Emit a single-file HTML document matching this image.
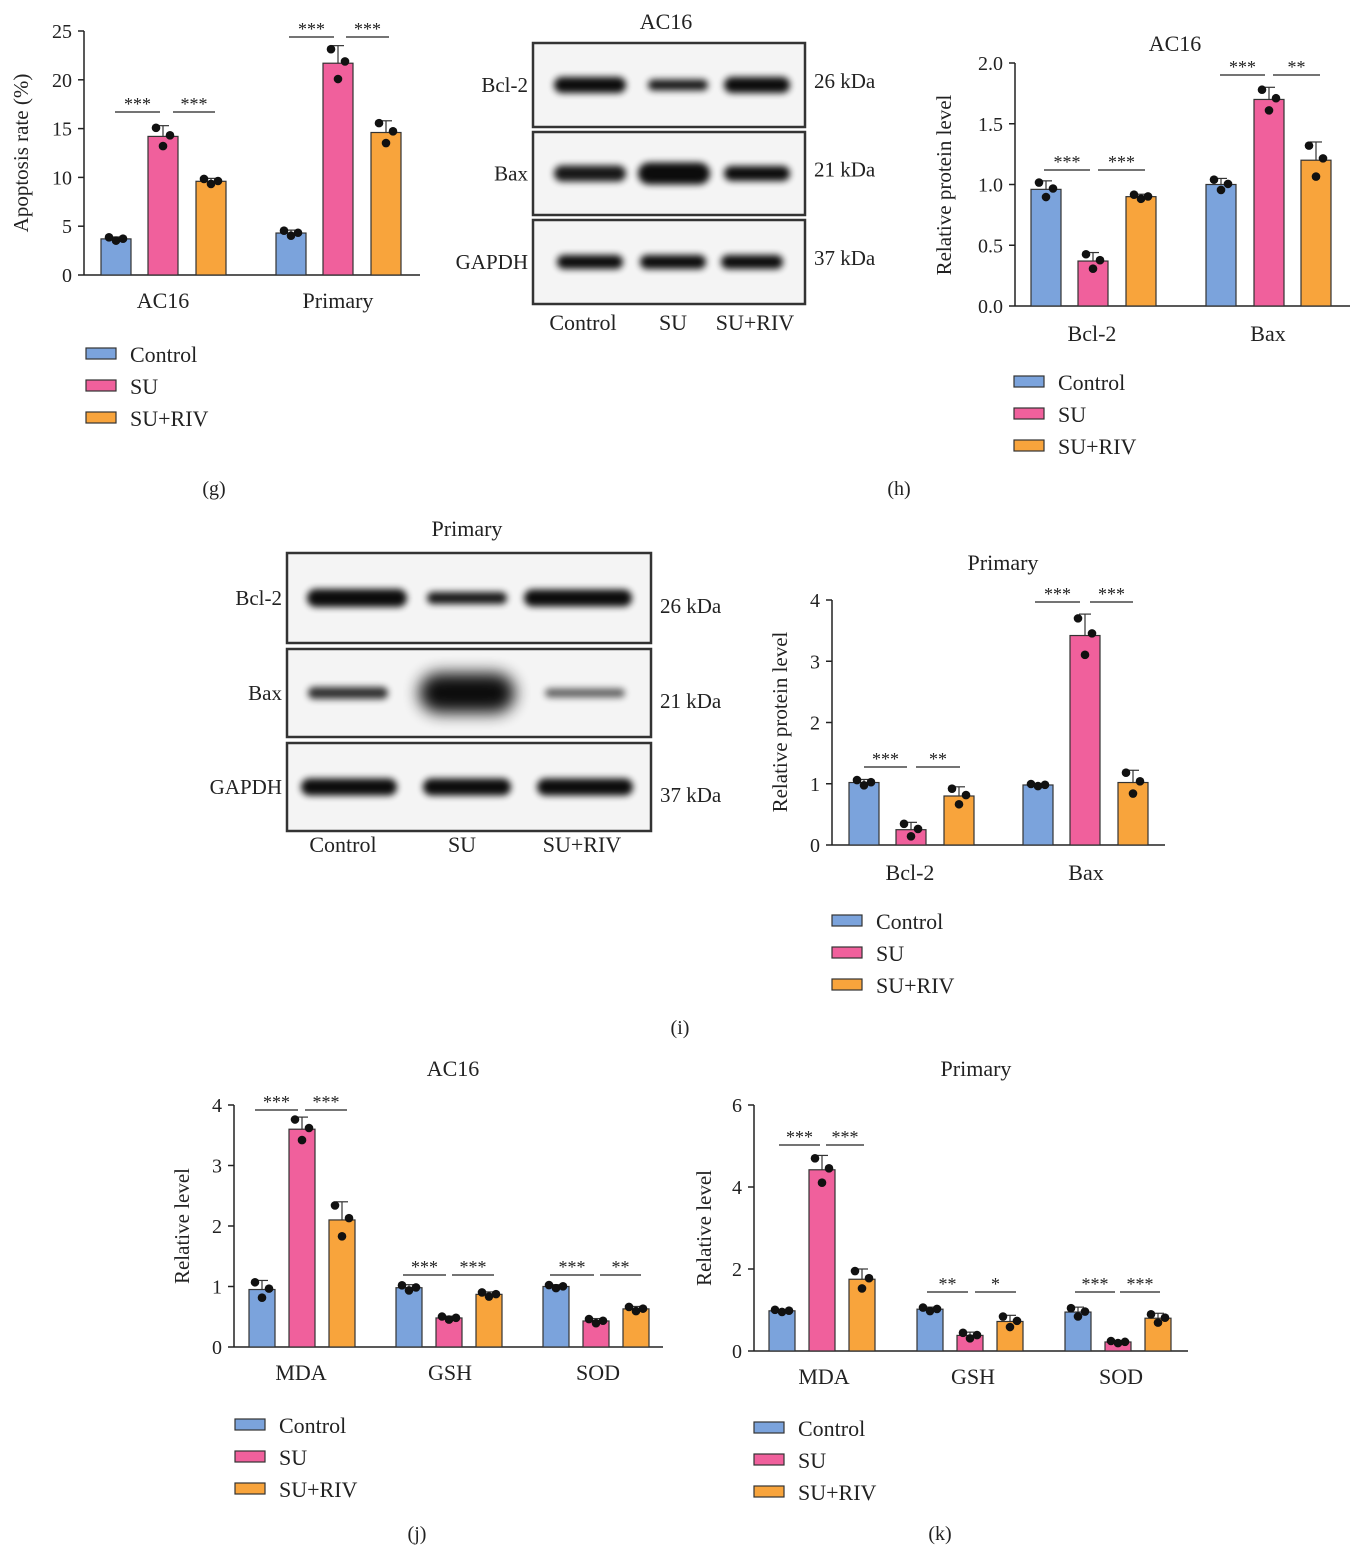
<!DOCTYPE html>
<html><head><meta charset="utf-8"><style>
html,body{margin:0;padding:0;background:#fff}
svg{display:block}
text{font-family:"Liberation Serif",serif;fill:#222}
</style></head><body>
<svg id="s" width="1366" height="1557" viewBox="0 0 1366 1557" xmlns="http://www.w3.org/2000/svg">
<defs><filter id="bl" x="-20%" y="-100%" width="140%" height="300%"><feGaussianBlur stdDeviation="3.5"/></filter>
<filter id="bl2" x="-20%" y="-100%" width="140%" height="300%"><feGaussianBlur stdDeviation="8"/></filter></defs>
</svg>
<script>
const S=document.getElementById('s');let h='';
const C=['#7ba3dc','#f0609c','#f8a43c'];
function t(x,y,s,sz,a,extra){h+=`<text x="${x}" y="${y}" font-size="${sz||20}" text-anchor="${a||'middle'}" ${extra||''}>${s}</text>`;}
function chart(o){
 const ax=o.ax,y0=o.y0,y1=o.y1,max=o.max;const sc=(y0-y1)/max;
 const Y=v=>y0-v*sc;
 h+=`<line x1="${ax}" y1="${y1}" x2="${ax}" y2="${y0}" stroke="#222" stroke-width="1.5"/>`;
 h+=`<line x1="${ax}" y1="${y0}" x2="${o.xe}" y2="${y0}" stroke="#222" stroke-width="1.5"/>`;
 o.ticks.forEach(v=>{const yy=Y(v);h+=`<line x1="${ax-6}" y1="${yy}" x2="${ax}" y2="${yy}" stroke="#222" stroke-width="1.5"/>`;t(ax-12,yy+7,o.fmt?v.toFixed(1):v,20,'end');});
 o.bars.forEach((g,gi)=>{g.forEach((b,bi)=>{const [x,w,v,e]=b;const yy=Y(v);
  h+=`<rect x="${x}" y="${yy}" width="${w}" height="${y0-yy}" fill="${C[bi]}" stroke="#333" stroke-width="1.2"/>`;
  const cx=x+w/2,et=Y(v+e);
  h+=`<line x1="${cx}" y1="${yy}" x2="${cx}" y2="${et}" stroke="#333" stroke-width="1.2"/><line x1="${cx-6}" y1="${et}" x2="${cx+6}" y2="${et}" stroke="#333" stroke-width="1.2"/>`;
  [[-7,v+e*0.8],[0,v-e*0.9],[7,v+e*0.1]].forEach(d=>{h+=`<circle cx="${cx+d[0]}" cy="${Y(d[1])}" r="4.3" fill="#111"/>`;});
 });});
 o.labels.forEach(l=>t(l[0],o.ly,l[1],22));
 (o.sig||[]).forEach(s=>{h+=`<line x1="${s[0]}" y1="${s[2]}" x2="${s[1]}" y2="${s[2]}" stroke="#222" stroke-width="1.2"/>`;t((s[0]+s[1])/2,s[2]-2,s[3],18);});
 if(o.title)t(o.title[0],o.title[1],o.title[2],22);
 if(o.yl)t(0,0,o.yl[2],21,'middle',`transform="translate(${o.yl[0]},${o.yl[1]}) rotate(-90)"`);
 const lg=o.leg;['Control','SU','SU+RIV'].forEach((n,i)=>{const yy=lg[1]+i*32;h+=`<rect x="${lg[0]}" y="${yy-6}" width="30" height="11" fill="${C[i]}" stroke="#333" stroke-width="1.2"/>`;t(lg[0]+44,yy+8,n,22,'start');});
}
function blot(o){
 o.rows.forEach((r,ri)=>{h+=`<rect x="${o.x}" y="${r[0]}" width="${o.w}" height="${r[1]-r[0]}" fill="#f4f4f4" stroke="#333" stroke-width="2.5"/>`;
  const cy=(r[0]+r[1])/2;
  o.bands[ri].forEach(b=>{const [cx,w,hh,op,big]=b;h+=`<rect x="${cx-w/2}" y="${cy-hh/2}" width="${w}" height="${hh}" rx="${hh/2}" fill="#000" opacity="${op}" filter="url(#${big?'bl2':'bl'})"/>`;});
  t(o.x-5,cy+7,o.ln[ri],21,'end');t(o.x+o.w+9,cy+o.ko+7,o.kd[ri],21,'start');
 });
 o.bl.forEach(l=>t(l[0],o.bly,l[1],22));t(o.tt[0],o.tt[1],o.tt[2],22);
}
// g
chart({ax:84,y0:275,y1:31,max:25,xe:420,ticks:[0,5,10,15,20,25],
 bars:[[[101,30,3.7,0.2],[148,30,14.2,1.1],[196,30,9.6,0.3]],[[276,30,4.3,0.3],[323,30,21.7,1.8],[371,30,14.6,1.2]]],
 labels:[[163,'AC16'],[338,'Primary']],ly:308,
 sig:[[115,160,112,'***'],[173,215,112,'***'],[289,334,37,'***'],[346,389,37,'***']],
 yl:[28,153,'Apoptosis rate (%)'],leg:[86,354]});
t(214,495,'(g)',20);
// h blot
blot({x:533,w:272,rows:[[43,127],[132,215],[220,304]],ln:['Bcl-2','Bax','GAPDH'],kd:['26 kDa','21 kDa','37 kDa'],ko:-4,
 bands:[[[590,72,16,.95],[678,60,11,.9],[757,66,16,.95]],[[590,72,16,.9],[674,72,22,.95],[757,66,15,.95]],[[590,66,14,.95],[673,66,14,.95],[752,62,14,.95]]],
 bl:[[583,'Control'],[673,'SU'],[755,'SU+RIV']],bly:330,tt:[666,29,'AC16']});
chart({ax:1015,y0:306,y1:63,max:2,xe:1350,ticks:[0,0.5,1,1.5,2],fmt:1,
 bars:[[[1031,30,0.96,0.07],[1078,30,0.37,0.07],[1126,30,0.9,0.02]],[[1206,30,1.0,0.05],[1254,30,1.7,0.1],[1301,30,1.2,0.15]]],
 labels:[[1092,'Bcl-2'],[1268,'Bax']],ly:341,
 sig:[[1044,1090,170,'***'],[1098,1145,170,'***'],[1220,1265,75,'***'],[1273,1320,75,'**']],
 title:[1175,51,'AC16'],yl:[951,185,'Relative protein level'],leg:[1014,382]});
t(899,495,'(h)',20);
// i blot
blot({x:287,w:364,rows:[[553,643],[649,737],[743,831]],ln:['Bcl-2','Bax','GAPDH'],kd:['26 kDa','21 kDa','37 kDa'],ko:8,
 bands:[[[357,100,18,.95],[467,80,12,.9],[578,108,17,.95]],[[348,80,12,.8],[467,96,40,.95,1],[585,80,9,.6]],[[349,96,17,.95],[467,88,17,.95],[585,96,17,.95]]],
 bl:[[343,'Control'],[462,'SU'],[582,'SU+RIV']],bly:852,tt:[467,536,'Primary']});
chart({ax:832,y0:845,y1:600,max:4,xe:1165,ticks:[0,1,2,3,4],
 bars:[[[849,30,1.02,0.05],[896,30,0.25,0.12],[944,30,0.8,0.15]],[[1023,30,0.98,0.02],[1070,30,3.42,0.35],[1118,30,1.02,0.2]]],
 labels:[[910,'Bcl-2'],[1086,'Bax']],ly:880,
 sig:[[864,907,767,'***'],[916,960,767,'**'],[1035,1080,602,'***'],[1090,1133,602,'***']],
 title:[1003,570,'Primary'],yl:[787,722,'Relative protein level'],leg:[832,921]});
t(680,1034,'(i)',20);
// j
chart({ax:234,y0:1347,y1:1105,max:4,xe:663,ticks:[0,1,2,3,4],
 bars:[[[249,26,0.95,0.15],[289,26,3.6,0.2],[329,26,2.1,0.3]],[[396,26,0.98,0.05],[436,26,0.48,0.03],[476,26,0.87,0.04]],[[543,26,1.0,0.03],[583,26,0.43,0.04],[623,26,0.63,0.04]]],
 labels:[[301,'MDA'],[450,'GSH'],[598,'SOD']],ly:1380,
 sig:[[255,298,1110,'***'],[305,347,1110,'***'],[403,446,1275,'***'],[452,494,1275,'***'],[550,594,1275,'***'],[600,641,1275,'**']],
 title:[453,1076,'AC16'],yl:[189,1226,'Relative level'],leg:[235,1425]});
t(417,1540,'(j)',20);
// k
chart({ax:754,y0:1351,y1:1105,max:6,xe:1188,ticks:[0,2,4,6],
 bars:[[[769,26,0.98,0.03],[809,26,4.42,0.35],[849,26,1.75,0.25]],[[917,26,1.02,0.05],[957,26,0.38,0.08],[997,26,0.72,0.15]],[[1065,26,0.95,0.12],[1105,26,0.22,0.03],[1145,26,0.8,0.12]]],
 labels:[[824,'MDA'],[973,'GSH'],[1121,'SOD']],ly:1384,
 sig:[[779,820,1145,'***'],[826,864,1145,'***'],[927,968,1292,'**'],[975,1016,1292,'*'],[1075,1115,1292,'***'],[1120,1160,1292,'***']],
 title:[976,1076,'Primary'],yl:[711,1228,'Relative level'],leg:[754,1428]});
t(940,1540,'(k)',20);
S.insertAdjacentHTML('beforeend',h);
</script>
</body></html>
